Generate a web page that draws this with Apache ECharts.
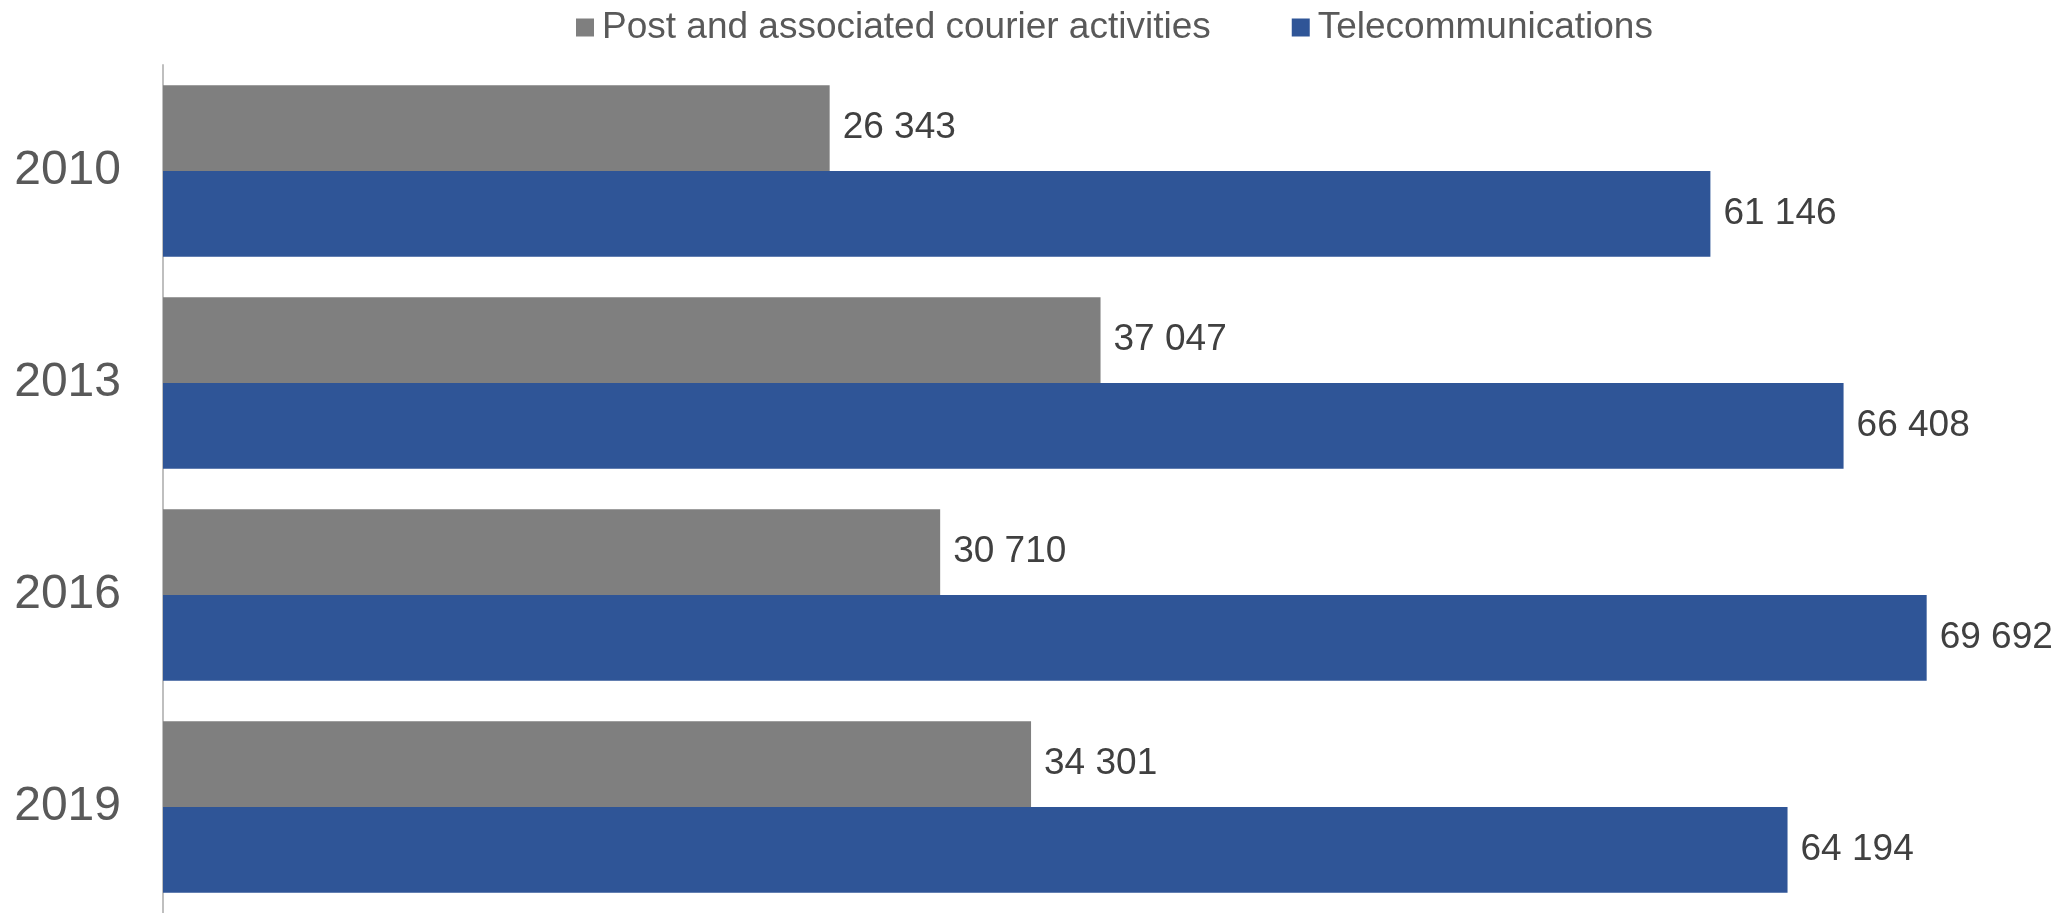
<!DOCTYPE html>
<html>
<head>
<meta charset="utf-8">
<script src="https://cdn.jsdelivr.net/npm/echarts@6/dist/echarts.min.js"></script>
<style>
  html, body { margin: 0; padding: 0; background: #fff; }
  #chart { width: 2067px; height: 913px; }
</style>
</head>
<body>
<div id="chart"></div>
<script>
const years = ['2010', '2013', '2016', '2019']
const post = [26343, 37047, 30710, 34301]
const telecom = [61146, 66408, 69692, 64194]

const fmt = (v) => String(v).replace(/\B(?=(\d{3})+(?!\d))/g, ' ')

let myChart = echarts.init(document.getElementById('chart'))
let option = {
  animation: false,
  textStyle: { fontFamily: 'Liberation Sans, Arial, sans-serif' },
  legend: {
    data: ['Post and associated courier activities', 'Telecommunications'],
    left: 571,
    top: 4,
    itemWidth: 18,
    itemHeight: 18,
    itemGap: 81,
    icon: 'rect',
    textStyle: {
      color: '#595959',
      fontSize: 37,
      padding: [0, 0, 0, 3],
    },
  },
  grid: {
    left: 163,
    right: 6,
    top: 65,
    bottom: 0,
    containLabel: false,
  },
  xAxis: {
    type: 'value',
    min: 0,
    max: 75000,
    show: false,
  },
  yAxis: {
    type: 'category',
    data: years,
    inverse: true,
    axisTick: { show: false },
    axisLine: {
      show: true,
      lineStyle: { color: '#BFBFBF', width: 2 },
    },
    axisLabel: {
      color: '#595959',
      fontSize: 48,
      margin: 42,
    },
  },
  series: [
    {
      name: 'Post and associated courier activities',
      type: 'bar',
      data: post,
      barGap: '0%',
      barCategoryGap: '19%',
      itemStyle: { color: '#7F7F7F' },
      label: {
        show: true,
        position: 'right',
        distance: 13,
        color: '#404040',
        fontSize: 37,
        formatter: (p) => fmt(p.value),
      },
    },
    {
      name: 'Telecommunications',
      type: 'bar',
      data: telecom,
      itemStyle: { color: '#2F5597' },
      label: {
        show: true,
        position: 'right',
        distance: 13,
        color: '#404040',
        fontSize: 37,
        formatter: (p) => fmt(p.value),
      },
    },
  ],
}
myChart.setOption(option)
</script>
</body>
</html>
